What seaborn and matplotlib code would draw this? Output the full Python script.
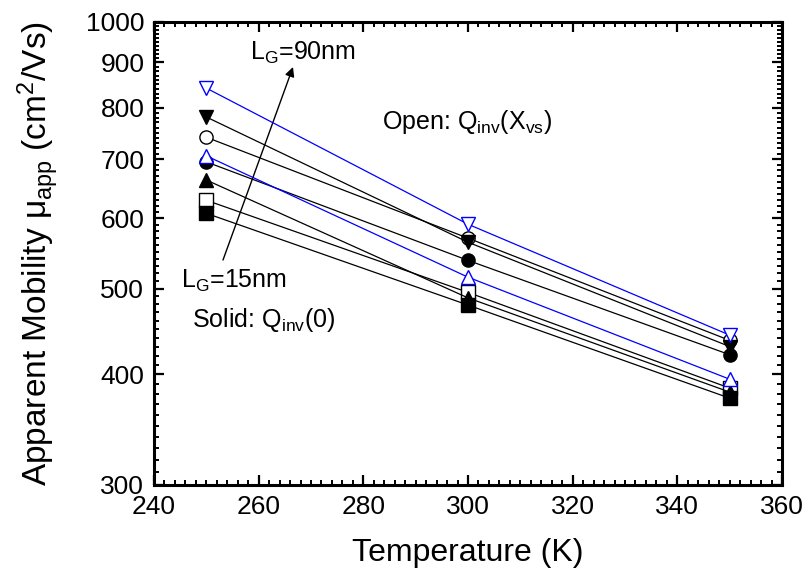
import matplotlib
matplotlib.use('Agg')
import matplotlib.pyplot as plt
import seaborn as sns
import numpy as np
from matplotlib.ticker import MultipleLocator, NullFormatter

# Temperature points (K)
temperature = [250, 300, 350]

# Solid symbols: Q_inv(0)
solid_square = [608, 479, 376]
solid_up = [663, 488, 382]
solid_circle = [695, 538, 421]
solid_down = [781, 564, 430]

# Open symbols: Q_inv(X_vs)
open_square = [629, 495, 386]
open_circle = [741, 570, 437]
open_up = [706, 515, 395]
open_down = [842, 591, 443]

y_ticks = [300, 400, 500, 600, 700, 800, 900, 1000]
x_ticks = [240, 260, 280, 300, 320, 340, 360]

sns.set_style('white')
plt.rcParams['font.family'] = ['Liberation Sans', 'DejaVu Sans']
plt.rcParams['mathtext.default'] = 'regular'
plt.rcParams['text.color'] = 'black'
plt.rcParams['axes.labelcolor'] = 'black'
plt.rcParams['xtick.color'] = 'black'
plt.rcParams['ytick.color'] = 'black'

fig = plt.figure(figsize=(8.08, 5.78), dpi=100, facecolor='white')
ax = fig.add_axes([0.1906, 0.1609, 0.7772, 0.8011])
ax.set_facecolor('white')

blue = '#0000FF'
# (values, marker, face colour, edge colour, line colour)
series = [
    (open_circle, 'o', 'white', 'black', 'black'),
    (open_square, 's', 'white', 'black', 'black'),
    (solid_square, 's', 'black', 'black', 'black'),
    (solid_up, '^', 'black', 'black', 'black'),
    (solid_circle, 'o', 'black', 'black', 'black'),
    (solid_down, 'v', 'black', 'black', 'black'),
    (open_up, '^', 'white', blue, blue),
    (open_down, 'v', 'white', blue, blue),
]

for i, (vals, m, fc, ec, lc) in enumerate(series):
    sns.lineplot(x=temperature, y=vals, ax=ax, color=lc, lw=0.9,
                 marker=m, markersize=9.5, markerfacecolor=fc,
                 markeredgecolor=ec, markeredgewidth=1.0,
                 errorbar=None, zorder=3 + i)

# Axes: log y, linear x
ax.set_yscale('log')
ax.set_ylim(300, 1000)
ax.set_xlim(240, 360)
ax.set_yticks(y_ticks, [str(v) for v in y_ticks])
ax.set_yticks([v for v in range(310, 1000, 10) if v % 100 != 0], minor=True)
ax.yaxis.set_minor_formatter(NullFormatter())
ax.set_xticks(x_ticks, [str(v) for v in x_ticks])
ax.xaxis.set_minor_locator(MultipleLocator(2))

for side in ['left', 'right', 'top', 'bottom']:
    ax.spines[side].set_linewidth(2.2)
    ax.spines[side].set_color('black')

ax.tick_params(which='both', direction='in', top=True, right=True,
               bottom=True, left=True, color='black')
ax.tick_params(which='major', length=7, width=1.6, labelsize=19, pad=7)
ax.tick_params(which='minor', length=3.5, width=1.4)

ax.set_xlabel('Temperature (K)', fontsize=23, labelpad=14)
ax.set_ylabel('Apparent Mobility μ$_{app}$ (cm$^2$/Vs)', fontsize=24, labelpad=18)

# Annotations
fig.text(250 / 808, 1 - 60 / 578, 'L$_G$=90nm', fontsize=18, va='baseline')
fig.text(382 / 808, 1 - 129 / 578, 'Open: Q$_{inv}$(X$_{vs}$)', fontsize=18, va='baseline')
fig.text(181 / 808, 1 - 288 / 578, 'L$_G$=15nm', fontsize=18, va='baseline')
fig.text(192 / 808, 1 - 327 / 578, 'Solid: Q$_{inv}$(0)', fontsize=18, va='baseline')

ax.annotate('', xy=(293 / 808, 1 - 67 / 578), xycoords='figure fraction',
            xytext=(223 / 808, 1 - 260 / 578), textcoords='figure fraction',
            arrowprops=dict(arrowstyle='-|>', color='black', lw=1.0,
                            mutation_scale=14, shrinkA=0, shrinkB=0))

plt.savefig('out.png', dpi=100, facecolor='white')
